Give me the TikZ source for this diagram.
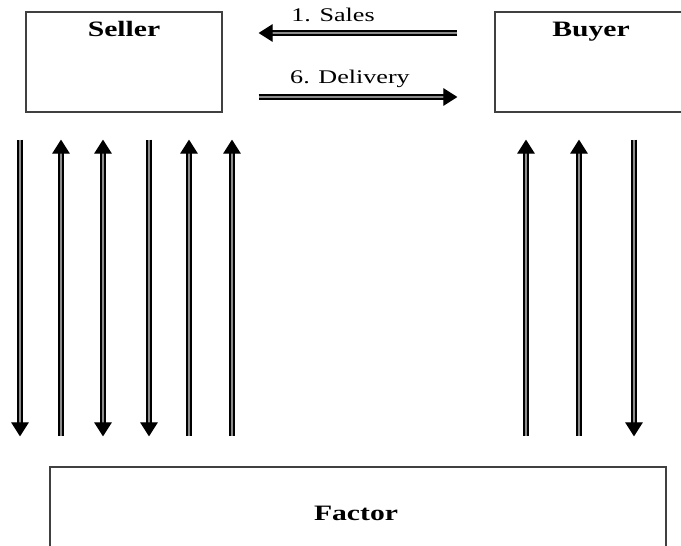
\documentclass[tikz,border=0pt]{standalone}
\usepackage{fontspec}
\setmainfont[FakeStretch=1.35]{Liberation Serif}
\usetikzlibrary{arrows.meta}

\tikzset{
  party/.style={draw=black!75,line width=0.7pt,rectangle,inner sep=0pt},
  title/.style={font=\fontsize{12.5}{14}\selectfont\bfseries,inner sep=0pt,anchor=base},
  step label/.style={font=\fontsize{11}{13}\selectfont,inner sep=0pt,anchor=base},
  flow/.style={draw=black,line width=0.7pt,double=black!45,double distance=1.6pt,
               >={Triangle[width=10pt,length=8pt]}},
  goesdown/.style={->},
  goesup/.style={<-},
  goesboth/.style={<->}
}

\begin{document}
\begin{tikzpicture}
\useasboundingbox (0,0) rectangle (13.62,10.9);
%\draw[step=0.5cm,gray,very thin] (0,0) grid (14,11); %background grid

% parties
\node[party,minimum width=3.92cm,minimum height=2cm] (seller) at (2.48,9.66) {};
\node[party,minimum width=4cm,minimum height=2cm] (buyer) at (11.9,9.66) {};
\node[party,minimum width=12.32cm,minimum height=2.46cm] (factor) at (7.16,0.33) {};

\node[title] (sellername) at (2.48,10.18) {Seller};
\node[title] (buyername) at (11.82,10.18) {Buyer};
\node[title] (factorname) at (7.12,0.5) {Factor};

% seller <-> buyer
\draw[flow,->,shorten <=0.74cm,shorten >=0.72cm] ([yshift=0.58cm]buyer.west) -- ([yshift=0.58cm]seller.east);
\draw[flow,->,shorten <=0.72cm,shorten >=0.74cm] ([yshift=-0.70cm]seller.east) -- ([yshift=-0.70cm]buyer.west);
\node[step label] (sales) at (6.66,10.47) {1. Sales};
\node[step label] (delivery) at (7.0,9.23) {6. Delivery};

% seller <-> factor
\foreach \x/\d [count=\i] in {0.4/goesdown,1.22/goesup,2.06/goesboth,2.98/goesdown,3.78/goesup,4.64/goesup}{
  \coordinate (s\i) at (\x,5);
  \draw[flow,\d,shorten <=0.54cm,shorten >=0.6cm] (s\i |- seller.south) -- (s\i |- factor.north);
}

% buyer <-> factor
\foreach \x/\d [count=\i] in {10.52/goesup,11.58/goesup,12.68/goesdown}{
  \coordinate (b\i) at (\x,5);
  \draw[flow,\d,shorten <=0.54cm,shorten >=0.6cm] (b\i |- buyer.south) -- (b\i |- factor.north);
}

\end{tikzpicture}
\end{document}
